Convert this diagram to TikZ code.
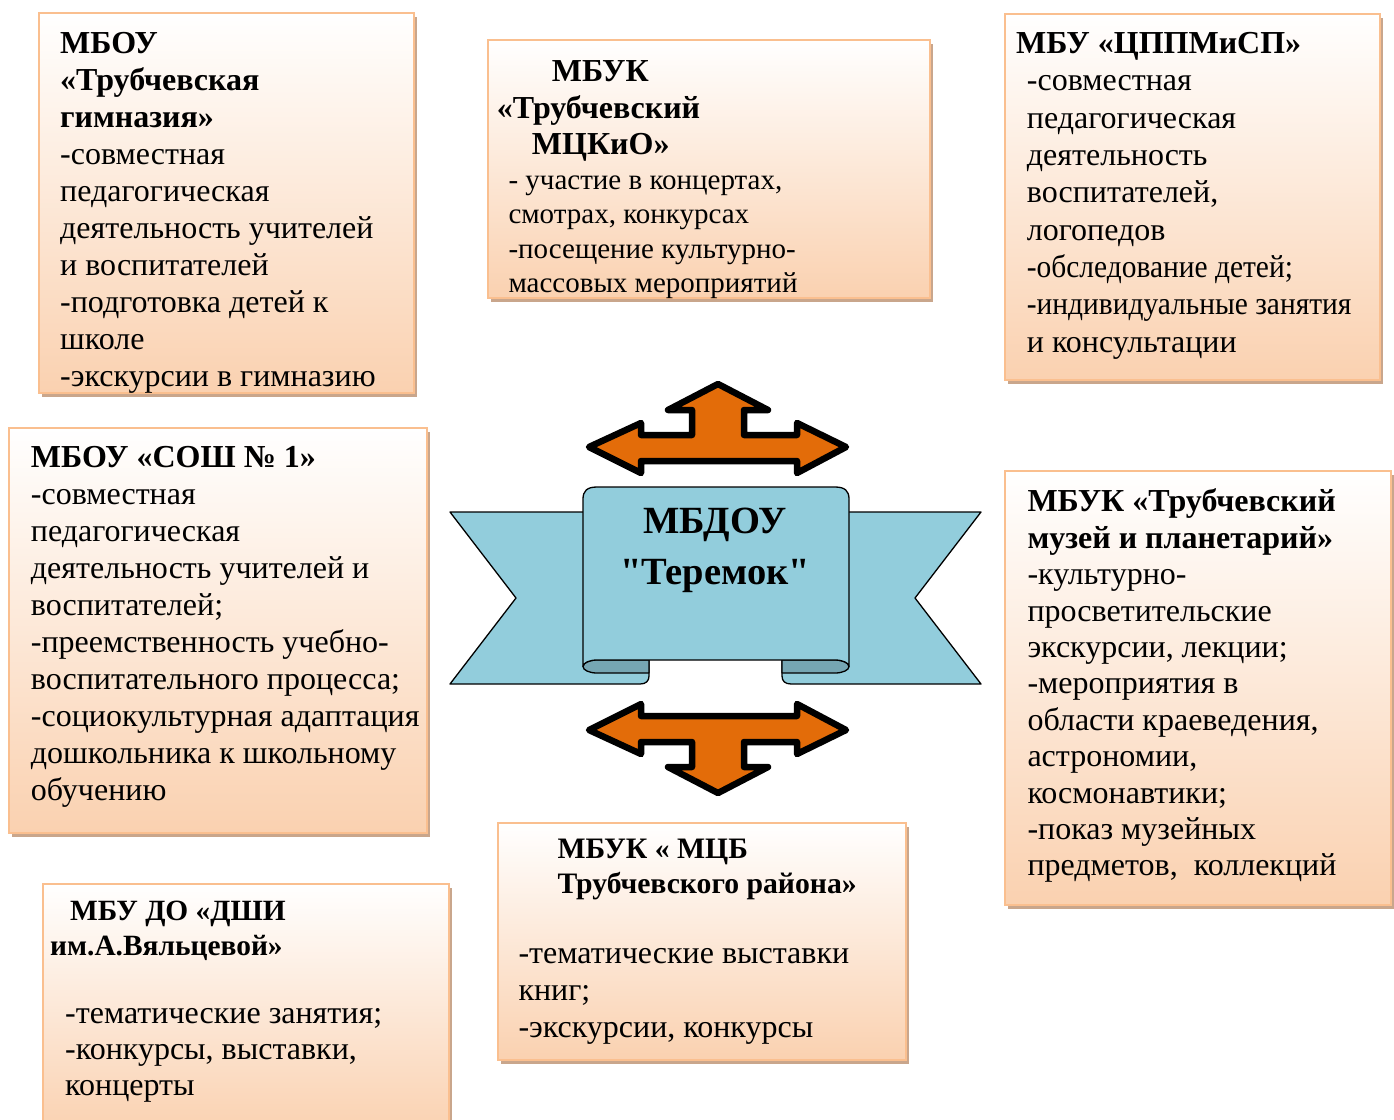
\documentclass[tikz,border=0pt]{standalone}
\usepackage{fontspec}
\usepackage{graphicx}
\setmainfont{Liberation Serif}
\newfontfamily\centerfont{Liberation Serif}[Ligatures=TeXOff]
\usetikzlibrary{shadows}
\definecolor{peach}{HTML}{FAD1B0}
\definecolor{boxline}{HTML}{FABF8F}
\definecolor{shadowc}{HTML}{C9A68C}
\definecolor{ribbonc}{HTML}{92CDDC}
\definecolor{ribbondark}{HTML}{76A6B3}
\definecolor{arroworange}{HTML}{E36C09}
\newcommand\bodyfont{\fontsize{32}{37}\selectfont}
\tikzset{
  boxsty/.style={draw=boxline, line width=2pt, top color=white, bottom color=peach,
    anchor=north west, inner sep=0pt,
    general shadow={fill=shadowc, shadow xshift=3pt, shadow yshift=-4pt}},
  txt/.style={anchor=north west, inner sep=0pt, align=left, text=black},
  ribbonsty/.style={fill=ribbonc},
  outl/.style={draw=black, line width=1.3pt, line join=round},
  arrowsty/.style={fill=arroworange, draw=black, line width=6.5pt, line join=round},
}
\begin{document}
\begin{tikzpicture}[x=1pt, y=-1pt]
\useasboundingbox (0,0) rectangle (1394,1119);

% ---------- boxes ----------
\node[boxsty, minimum width=375pt, minimum height=380pt] (b1) at (38,12) {};
\node[boxsty, minimum width=441.5pt, minimum height=258.5pt] (b2) at (487,38.5) {};
\node[boxsty, minimum width=374.5pt, minimum height=366pt] (b3) at (1004,12.7) {};
\node[boxsty, minimum width=417.7pt, minimum height=405.5pt] (b4) at (8.3,426.5) {};
\node[boxsty, minimum width=385.7pt, minimum height=433.5pt] (b5) at (1004.3,470) {};
\node[boxsty, minimum width=406pt, minimum height=250pt] (b6) at (42.3,882.7) {};
\node[boxsty, minimum width=407.7pt, minimum height=237.5pt] (b7) at (497.3,821.7) {};

% ---------- texts ----------
\node[txt, font=\bodyfont] (t1) at (60,27.4) {\strut\textbf{МБОУ}\\
\textbf{«Трубчевская}\\
\textbf{гимназия»}\\
-совместная\\
педагогическая\\
деятельность учителей\\
и воспитателей\\
-подготовка детей к\\
школе\\
-экскурсии в гимназию};

\node[txt, font=\fontsize{32}{36.3}\selectfont\bfseries] (t2a) at (496.7,56.3) {\strut\hspace*{55pt}МБУК\\
«Трубчевский\\
\hspace*{35pt}МЦКиО»};
\node[txt, font=\fontsize{29}{34.3}\selectfont] (t2b) at (508.3,165.3) {\strut- участие в концертах,\\
смотрах, конкурсах\\
-посещение культурно-\\
массовых мероприятий};

\node[txt, font=\bodyfont\bfseries] (t3a) at (1016,27.4) {\strut МБУ «ЦППМиСП»};
\node[txt, font=\fontsize{32}{37.3}\selectfont] (t3b) at (1026.7,64.6) {\strut-совместная\\
педагогическая\\
деятельность\\
воспитателей,\\
логопедов\\
\scalebox{0.92}[1]{-обследование детей;}\\
\scalebox{0.92}[1]{-индивидуальные занятия}\\
и консультации};

\node[txt, font=\fontsize{32}{37.1}\selectfont] (t4) at (30.7,440.9) {\strut\textbf{МБОУ «СОШ № 1»}\\
-совместная\\
педагогическая\\
деятельность учителей и\\
воспитателей;\\
-преемственность учебно-\\
воспитательного процесса;\\
-социокультурная адаптация\\
дошкольника к школьному\\
обучению};

\node[txt, font=\fontsize{32}{36.4}\selectfont] (t5) at (1027.3,486.2) {\strut\textbf{МБУК «Трубчевский}\\
\textbf{музей и планетарий»}\\
-культурно-\\
просветительские\\
экскурсии, лекции;\\
-мероприятия в\\
области краеведения,\\
астрономии,\\
космонавтики;\\
-показ музейных\\
предметов,\ \ коллекций};

\node[txt, font=\fontsize{29.4}{35}\selectfont\bfseries] (t6a) at (50,895.5) {\strut\hspace*{20pt}МБУ ДО «ДШИ\\
им.А.Вяльцевой»};
\node[txt, font=\fontsize{32}{36}\selectfont] (t6b) at (65,998.1) {\strut-тематические занятия;\\
-конкурсы, выставки,\\
концерты};

\node[txt, font=\fontsize{29.7}{35}\selectfont\bfseries] (t7a) at (557.3,833.8) {\strut МБУК « МЦБ\\
Трубчевского района»};
\node[txt, font=\fontsize{32}{37}\selectfont] (t7b) at (518.3,937.4) {\strut-тематические выставки\\
книг;\\
-экскурсии, конкурсы};

% ---------- ribbon ----------
% left tail
\fill[ribbonsty] (450,512) -- (650,512) -- (649,676) .. controls (649,681) and (646,684) .. (640,684) -- (450,684) -- (516,598) -- cycle;
\draw[outl] (600,512) -- (450,512) -- (516,598) -- (450,684) -- (640,684) .. controls (646,684) and (649,681) .. (649,676) -- (649,660);
% right tail
\fill[ribbonsty] (981,512) -- (781,512) -- (782,676) .. controls (782,681) and (785,684) .. (791,684) -- (981,684) -- (915,598) -- cycle;
\draw[outl] (830,512) -- (981,512) -- (915,598) -- (981,684) -- (791,684) .. controls (785,684) and (782,681) .. (782,676) -- (782,660);
% folded (dark) parts
\filldraw[outl, fill=ribbondark] (597,660) -- (649,660) -- (649,673) -- (597,673) .. controls (589.3,673) and (583,670.1) .. (583,666.5) .. controls (583,662.9) and (589.3,660) .. (597,660) -- cycle;
\filldraw[outl, fill=ribbondark] (835,660) -- (782,660) -- (782,673) -- (835,673) .. controls (842.7,673) and (849,670.1) .. (849,666.5) .. controls (849,662.9) and (842.7,660) .. (835,660) -- cycle;
% front panel
\filldraw[outl, fill=ribbonc] (583,666.5) -- (583,499) .. controls (583,491) and (587,487) .. (597,487) -- (835,487) .. controls (845,487) and (849,491) .. (849,499) -- (849,666.5) .. controls (849,662.9) and (842.7,660) .. (835,660) -- (597,660) .. controls (589.3,660) and (583,662.9) .. (583,666.5) -- cycle;

\node[anchor=north, inner sep=0pt, align=center, font=\centerfont\fontsize{38.5}{51}\selectfont\bfseries] (center) at (715,497.6) {\strut МБДОУ\\ "Теремок"};

% ---------- arrows ----------
\draw[arrowsty] (589,447) -- (641,423) -- (641,435) -- (692,435) -- (692,410) -- (668,410) -- (718,384) -- (768,410) -- (744,410) -- (744,435) -- (797,435) -- (797,423) -- (846,447) -- (797,473) -- (797,461) -- (641,461) -- (641,473) -- cycle;
\draw[arrowsty] (589,730) -- (641,754) -- (641,742) -- (692,742) -- (692,767) -- (668,767) -- (718,793) -- (768,767) -- (744,767) -- (744,742) -- (797,742) -- (797,754) -- (846,730) -- (797,704) -- (797,716) -- (641,716) -- (641,704) -- cycle;
\end{tikzpicture}
\end{document}
